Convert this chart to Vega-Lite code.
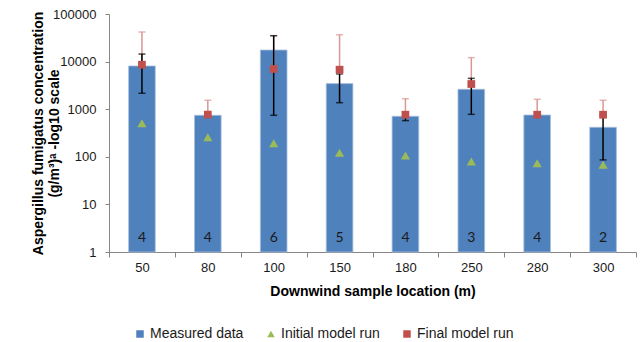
{
  "$schema": "https://vega.github.io/schema/vega-lite/v6.json",
  "width": 527,
  "height": 238,
  "autosize": {"type": "none"},
  "padding": {"left": 109, "top": 14, "right": 6, "bottom": 90},
  "background": "white",
  "config": {
    "view": {"stroke": null},
    "font": "Liberation Sans",
    "axis": {
      "labelFont": "Liberation Sans",
      "labelFontSize": 13,
      "labelColor": "#1a1a1a",
      "titleFont": "Liberation Sans",
      "titleFontSize": 14,
      "titleFontWeight": "bold",
      "titleColor": "#000000",
      "domainColor": "#868686",
      "tickColor": "#868686",
      "grid": false
    },
    "legend": {
      "labelFont": "Liberation Sans",
      "labelFontSize": 14,
      "labelColor": "#1a1a1a"
    }
  },
  "data": {
    "values": [
      {"loc": "50", "series": "Measured data", "value": 8100, "lo": 2160, "hi": 14400, "n": 4},
      {"loc": "80", "series": "Measured data", "value": 745, "lo": null, "hi": null, "n": 4},
      {"loc": "100", "series": "Measured data", "value": 17500, "lo": 745, "hi": 35000, "n": 6},
      {"loc": "150", "series": "Measured data", "value": 3450, "lo": 1370, "hi": 5500, "n": 5},
      {"loc": "180", "series": "Measured data", "value": 710, "lo": 575, "hi": 850, "n": 4},
      {"loc": "250", "series": "Measured data", "value": 2620, "lo": 780, "hi": 4450, "n": 3},
      {"loc": "280", "series": "Measured data", "value": 755, "lo": null, "hi": null, "n": 4},
      {"loc": "300", "series": "Measured data", "value": 417, "lo": 86, "hi": 750, "n": 2},
      {"loc": "50", "series": "Initial model run", "value": 505},
      {"loc": "80", "series": "Initial model run", "value": 257},
      {"loc": "100", "series": "Initial model run", "value": 192},
      {"loc": "150", "series": "Initial model run", "value": 122},
      {"loc": "180", "series": "Initial model run", "value": 107},
      {"loc": "250", "series": "Initial model run", "value": 80},
      {"loc": "280", "series": "Initial model run", "value": 73},
      {"loc": "300", "series": "Initial model run", "value": 68},
      {"loc": "50", "series": "Final model run", "value": 8600, "hi": 41900},
      {"loc": "80", "series": "Final model run", "value": 770, "hi": 1540},
      {"loc": "100", "series": "Final model run", "value": 7000, "hi": 35000},
      {"loc": "150", "series": "Final model run", "value": 6760, "hi": 36700},
      {"loc": "180", "series": "Final model run", "value": 766, "hi": 1660},
      {"loc": "250", "series": "Final model run", "value": 3380, "hi": 12100},
      {"loc": "280", "series": "Final model run", "value": 766, "hi": 1615},
      {"loc": "300", "series": "Final model run", "value": 766, "hi": 1540}
    ]
  },
  "encoding": {
    "x": {
      "field": "loc",
      "type": "ordinal",
      "sort": ["50", "80", "100", "150", "180", "250", "280", "300"],
      "scale": {"paddingInner": 0, "paddingOuter": 0},
      "axis": {
        "title": "Downwind sample location (m)",
        "labelAngle": 0,
        "tickBand": "extent",
        "tickSize": 5,
        "labelPadding": 4,
        "titlePadding": 10
      }
    }
  },
  "layer": [
    {
      "transform": [{"filter": "datum.series === 'Measured data'"}],
      "mark": {"type": "bar", "width": {"band": 0.405}, "stroke": "#a9c0df", "strokeWidth": 0.8},
      "encoding": {
        "y": {
          "field": "value",
          "type": "quantitative",
          "scale": {"type": "log", "domain": [1, 100000], "nice": false},
          "axis": {
            "title": ["Aspergillus fumigatus concentration", "(g/m³)ᵃ -log10 scale"],
            "titleLineHeight": 16,
            "titleX": -64,
            "titleY": 119,
            "titleAngle": -90,
            "titleBaseline": "bottom",
            "titleAlign": "center",
            "values": [1, 10, 100, 1000, 10000, 100000],
            "format": "d",
            "tickSize": 4,
            "labelPadding": 9
          }
        },
        "y2": {"datum": 1},
        "color": {
          "field": "series",
          "type": "nominal",
          "scale": {
            "domain": ["Measured data", "Initial model run", "Final model run"],
            "range": ["#4f81bd", "#9bbb59", "#c0504d"]
          },
          "legend": {
            "title": null,
            "orient": "none",
            "direction": "horizontal",
            "legendX": 24,
            "legendY": 313,
            "columnPadding": 20,
            "labelOffset": 3,
            "symbolSize": 56,
            "symbolStrokeWidth": 0,
            "symbolOpacity": 1,
            "padding": 0
          }
        }
      }
    },
    {
      "transform": [{"filter": "datum.series === 'Final model run'"}],
      "mark": {"type": "rule", "color": "#da9694", "strokeWidth": 1.5},
      "encoding": {
        "y": {"field": "value", "type": "quantitative"},
        "y2": {"field": "hi"}
      }
    },
    {
      "transform": [{"filter": "datum.series === 'Final model run'"}],
      "mark": {"type": "tick", "color": "#da9694", "size": 7, "thickness": 1.5},
      "encoding": {
        "y": {"field": "hi", "type": "quantitative"}
      }
    },
    {
      "transform": [{"filter": "datum.series === 'Measured data' && datum.lo != null"}],
      "mark": {"type": "rule", "color": "#000000", "strokeWidth": 1.5},
      "encoding": {
        "y": {"field": "lo", "type": "quantitative"},
        "y2": {"field": "hi"}
      }
    },
    {
      "transform": [{"filter": "datum.series === 'Measured data' && datum.lo != null"}],
      "mark": {"type": "tick", "color": "#000000", "size": 7, "thickness": 1.5},
      "encoding": {
        "y": {"field": "lo", "type": "quantitative"}
      }
    },
    {
      "transform": [{"filter": "datum.series === 'Measured data' && datum.hi != null"}],
      "mark": {"type": "tick", "color": "#000000", "size": 7, "thickness": 1.5},
      "encoding": {
        "y": {"field": "hi", "type": "quantitative"}
      }
    },
    {
      "transform": [{"filter": "datum.series === 'Initial model run'"}],
      "mark": {"type": "point", "filled": true, "opacity": 1, "size": 85},
      "encoding": {
        "y": {"field": "value", "type": "quantitative"},
        "color": {"field": "series", "type": "nominal"},
        "shape": {
          "field": "series",
          "type": "nominal",
          "scale": {
            "domain": ["Measured data", "Initial model run", "Final model run"],
            "range": ["square", "triangle-up", "square"]
          }
        }
      }
    },
    {
      "transform": [{"filter": "datum.series === 'Final model run'"}],
      "mark": {"type": "point", "filled": true, "opacity": 1, "size": 60},
      "encoding": {
        "y": {"field": "value", "type": "quantitative"},
        "color": {"field": "series", "type": "nominal"},
        "shape": {"field": "series", "type": "nominal"}
      }
    },
    {
      "transform": [{"filter": "datum.series === 'Measured data'"}],
      "mark": {"type": "text", "font": "Lato", "fontSize": 14, "color": "#1a1a1a", "baseline": "middle"},
      "encoding": {
        "y": {"datum": 2},
        "text": {"field": "n", "type": "quantitative"}
      }
    }
  ]
}
